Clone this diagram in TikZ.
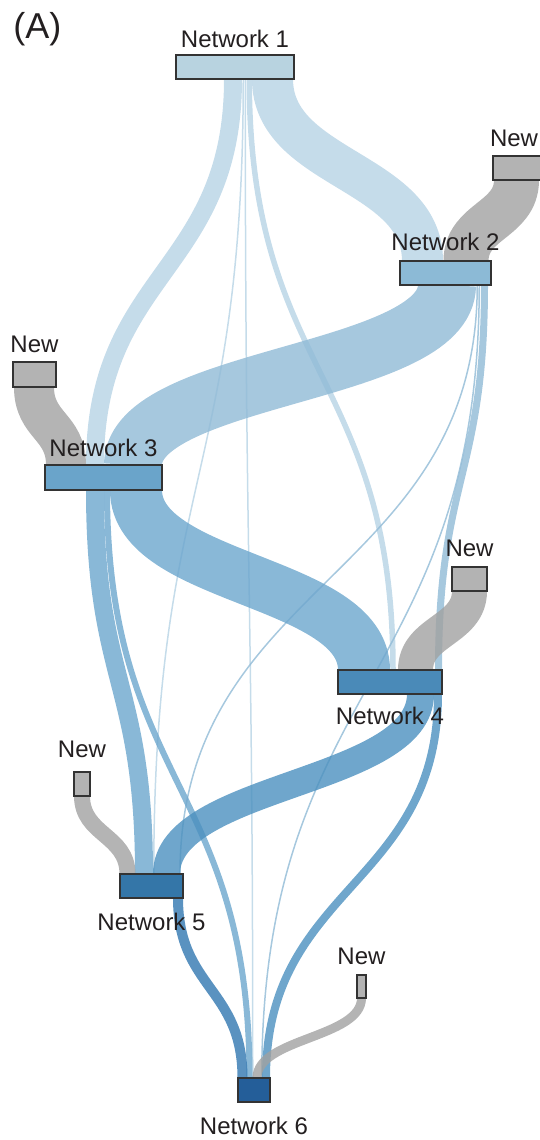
\documentclass[tikz,border=0pt]{standalone}
\usepackage{fontspec}
\setmainfont{Liberation Sans}
\usetikzlibrary{positioning,calc,backgrounds}
\definecolor{nwText}{HTML}{231F20}
\definecolor{nwEdge}{HTML}{333333}
\definecolor{nwGrey}{HTML}{B3B3B3}
\definecolor{nwBoxA}{HTML}{B8D3E0}
\definecolor{nwBoxB}{HTML}{8CBAD6}
\definecolor{nwBoxC}{HTML}{6AA4CA}
\definecolor{nwBoxD}{HTML}{4A8AB8}
\definecolor{nwBoxE}{HTML}{3476A8}
\definecolor{nwBoxF}{HTML}{245E99}
\definecolor{nwFlowA}{HTML}{B7D3E5}
\definecolor{nwFlowB}{HTML}{90BAD6}
\definecolor{nwFlowC}{HTML}{6CA6CD}
\definecolor{nwFlowD}{HTML}{4B90BF}
\definecolor{nwFlowE}{HTML}{3177B0}
\definecolor{nwFlowG}{HTML}{A1A1A1}
% flow band: style, source, offset on source bottom, target, offset on target top, width (px)
\newcommand{\ribbon}[6]{%
  \coordinate (ra) at ($(#2.south west)+(#3,0)$);
  \coordinate (rc) at ($(#4.north west)+(#5,0)$);
  \draw[#1,line width=#6*0.5pt] (ra) .. controls ($(ra)!.5!(ra|-rc)$) and ($(rc)!.5!(rc|-ra)$) .. (rc);}

\begin{document}
\begin{tikzpicture}[x=0.5pt,y=-0.5pt,
    netbox/.style={draw=nwEdge,line width=0.8pt,minimum height=12pt,inner sep=0pt,outer sep=0pt},
    newbox/.style={netbox,fill=nwGrey},
    netlabel/.style={font=\fontsize{12}{14}\selectfont,text=nwText,inner sep=1pt},
    flowA/.style={draw=nwFlowA,draw opacity=0.8},
    flowB/.style={draw=nwFlowB,draw opacity=0.8},
    flowC/.style={draw=nwFlowC,draw opacity=0.8},
    flowD/.style={draw=nwFlowD,draw opacity=0.8},
    flowE/.style={draw=nwFlowE,draw opacity=0.8},
    flowG/.style={draw=nwFlowG,draw opacity=0.8}]
  \useasboundingbox (0,0) rectangle (540,1140);

  % modules
  \node[netbox,fill=nwBoxA,minimum width=59pt] (n1) at (235,67) {};
  \node[newbox,minimum width=26pt] (new2) at (519,168) {};
  \node[netbox,fill=nwBoxB,minimum width=45.5pt] (n2) at (445.5,273) {};
  \node[newbox,minimum width=21.5pt,minimum height=12.5pt] (new3) at (34.5,374.5) {};
  \node[netbox,fill=nwBoxC,minimum width=58.5pt,minimum height=12.5pt] (n3) at (103.5,477.5) {};
  \node[newbox,minimum width=17.5pt] (new4) at (469.5,579) {};
  \node[netbox,fill=nwBoxD,minimum width=52pt] (n4) at (390,682) {};
  \node[newbox,minimum width=8pt] (new5) at (82,784) {};
  \node[netbox,fill=nwBoxE,minimum width=31.5pt] (n5) at (151.5,886) {};
  \node[newbox,minimum width=4.5pt,minimum height=11.5pt] (new6) at (361.5,986.5) {};
  \node[netbox,fill=nwBoxF,minimum width=16pt] (n6) at (254,1090) {};

  % labels
  \node[font=\fontsize{18}{20}\selectfont,text=nwText,anchor=north west,inner sep=0pt] (panel) at (13,12) {(A)};
  \node[netlabel,above=2.5pt of n1] (n1lab) {Network 1};
  \node[netlabel,above=3.5pt of new2,xshift=-2.5pt] (new2lab) {New};
  \node[netlabel,above=4pt of n2] (n2lab) {Network 2};
  \node[netlabel,above=3.5pt of new3] (new3lab) {New};
  \node[netlabel,above=3pt of n3] (n3lab) {Network 3};
  \node[netlabel,above=4pt of new4] (new4lab) {New};
  \node[netlabel,below=5.5pt of n4] (n4lab) {Network 4};
  \node[netlabel,above=6pt of new5] (new5lab) {New};
  \node[netlabel,below=6.5pt of n5] (n5lab) {Network 5};
  \node[netlabel,above=4pt of new6] (new6lab) {New};
  \node[netlabel,below=6.5pt of n6] (n6lab) {Network 6};

  % flows
  \begin{scope}[on background layer]
    \ribbon{flowA}{n1}{57}{n3}{50}{18}
    \ribbon{flowA}{n1}{67.25}{n5}{33.75}{1.5}
    \ribbon{flowA}{n1}{69.25}{n6}{14.75}{1.5}
    \ribbon{flowA}{n1}{73.25}{n4}{55}{5.5}
    \ribbon{flowA}{n1}{96.5}{n2}{22.5}{41}
    \ribbon{flowG}{new2}{23.5}{n2}{66}{45}
    \ribbon{flowG}{new3}{21}{n3}{21}{40}
    \ribbon{flowB}{n2}{47}{n3}{88}{58}
    \ribbon{flowB}{n2}{77.25}{n5}{60}{1.5}
    \ribbon{flowB}{n2}{79.25}{n6}{23.75}{1.5}
    \ribbon{flowB}{n2}{84.5}{n4}{100.5}{7}
    \ribbon{flowG}{new4}{17.5}{n4}{77.5}{35}
    \ribbon{flowC}{n3}{50}{n5}{24}{18}
    \ribbon{flowC}{n3}{62}{n6}{11.5}{6}
    \ribbon{flowC}{n3}{91}{n4}{26}{52}
    \ribbon{flowG}{new5}{8}{n5}{7.5}{16}
    \ribbon{flowD}{n4}{82.5}{n5}{46.5}{27}
    \ribbon{flowD}{n4}{100}{n6}{28}{8}
    \ribbon{flowG}{new6}{4.5}{n6}{19}{9}
    \ribbon{flowE}{n5}{58}{n6}{4.5}{10}
  \end{scope}
\end{tikzpicture}
\end{document}
